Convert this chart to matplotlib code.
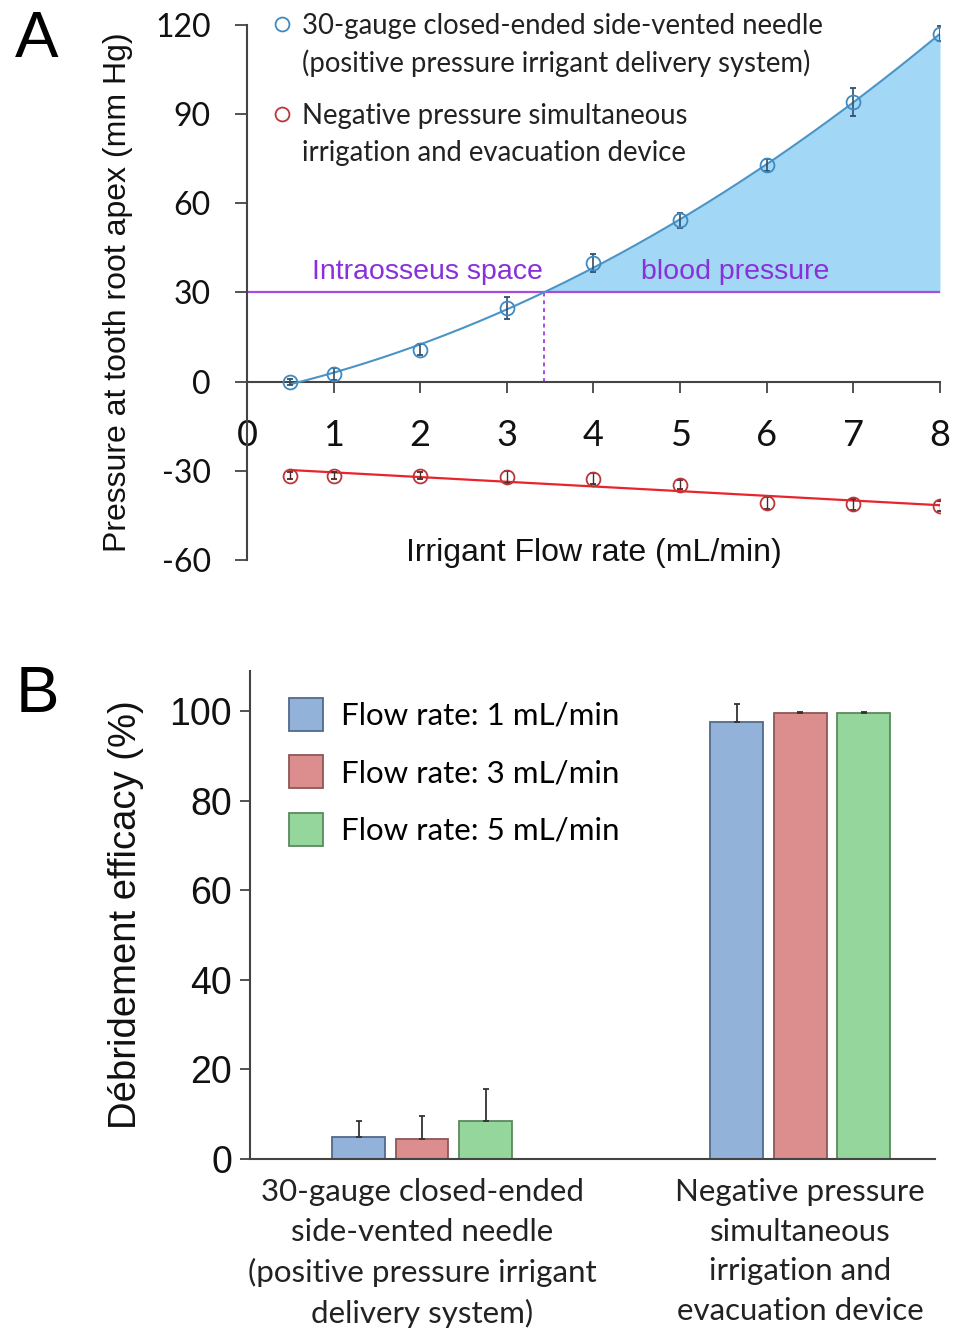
import matplotlib
matplotlib.use("Agg")
import matplotlib.pyplot as plt
import numpy as np
from matplotlib.patches import Patch

# ---- panel A data: pressure at root apex vs flow rate
flow = [0.5, 1, 2, 3, 4, 5, 6, 7, 8]
p_needle = [0.0, 2.7, 10.8, 24.6, 39.8, 54.3, 72.8, 94.0, 117.0]
p_needle_err = [1.0, 2.0, 2.0, 3.7, 3.0, 2.5, 2.0, 4.7, 2.5]
p_negative = [-31.7, -31.6, -31.6, -32.0, -32.7, -34.7, -40.8, -41.3, -41.8]
p_negative_err = [1.2, 1.2, 1.2, 2.0, 1.8, 1.5, 2.0, 1.8, 1.8]
blood_pressure = 30

# ---- panel B data: debridement efficacy
groups = ["30-gauge closed-ended\nside-vented needle\n(positive pressure irrigant\ndelivery system)",
          "Negative pressure\nsimultaneous\nirrigation and\nevacuation device"]
rate_labels = ["Flow rate: 1 mL/min", "Flow rate: 3 mL/min", "Flow rate: 5 mL/min"]
eff_1 = [4.8, 97.6]
eff_3 = [4.4, 99.6]
eff_5 = [8.5, 99.6]
err_1 = [3.7, 4.0]
err_3 = [5.1, 0.3]
err_5 = [7.1, 0.2]

SANS = ["Liberation Sans", "DejaVu Sans"]
CAL = ["Lato", "DejaVu Sans"]
plt.rcParams["axes.unicode_minus"] = False

fig = plt.figure(figsize=(9.55, 13.32), dpi=100)

# ================= panel A =================
ax = fig.add_axes([0.2586, 0.5796, 0.7257, 0.4017])
x = np.array(flow)
yb = np.array(p_needle)
yr = np.array(p_negative)

cb = np.polyfit(x, yb, 2)
cr = np.polyfit(x, yr, 1)
xs = np.linspace(x.min(), x.max(), 300)
fit_b = np.polyval(cb, xs)
fit_r = np.polyval(cr, xs)

# where fitted curve crosses blood pressure level
roots = np.roots(cb - np.array([0, 0, blood_pressure]))
x_cross = [r.real for r in roots if abs(r.imag) < 1e-9 and x.min() <= r.real <= x.max()][0]

ax.fill_between(xs, blood_pressure, fit_b, where=xs >= x_cross, color="#a2d7f6",
                linewidth=0, interpolate=True, zorder=1)
ax.axhline(blood_pressure, xmin=0, xmax=1, color="#a64de0", lw=1.6, zorder=2)
ax.plot([x_cross, x_cross], [0, blood_pressure], color="#a64de0", lw=1.4,
        ls=(0, (2, 2)), zorder=2)

ax.plot(xs, fit_b, color="#4a94c6", lw=1.5, zorder=3)
ax.errorbar(x, yb, yerr=p_needle_err, fmt="o", mfc="none", mec="#3f8ac2", ms=10,
            mew=1.3, ecolor="#2f4f6a", elinewidth=1.2, capsize=2.5, zorder=4)
ax.plot(xs, fit_r, color="#e8242c", lw=1.6, zorder=3)
ax.errorbar(x, yr, yerr=p_negative_err, fmt="o", mfc="none", mec="#b8383a", ms=10,
            mew=1.3, ecolor="#4a2a2a", elinewidth=1.0, capsize=2, zorder=4)

ax.set_xlim(0, 8)
ax.set_ylim(-60, 120)
ax.spines["top"].set_visible(False)
ax.spines["right"].set_visible(False)
ax.spines["bottom"].set_position(("data", 0))
for s in ["left", "bottom"]:
    ax.spines[s].set_color("#444444")
    ax.spines[s].set_linewidth(1.5)
ax.set_xticks(range(0, 9))
ax.set_yticks(range(-60, 121, 30))
ax.tick_params(axis="y", direction="out", length=9, width=1.3, pad=17, colors="#444444",
               labelcolor="#111111")
ax.tick_params(axis="x", direction="out", length=8, width=1.3, pad=19, colors="#444444",
               labelcolor="#111111")
for lab in ax.get_yticklabels():
    lab.set_fontfamily(CAL)
    lab.set_fontsize(23)
for lab in ax.get_xticklabels():
    lab.set_fontfamily(CAL)
    lab.set_fontsize(26)

ax.set_ylabel("Pressure at tooth root apex (mm Hg)", fontsize=23, family=SANS,
              color="#111111", labelpad=16)
ax.text(4.0, -57.5, "Irrigant Flow rate (mL/min)", fontsize=23, family=SANS,
        ha="center", va="center", color="#111111")

ax.text(2.08, 37, "Intraosseus space", fontsize=20.5, family=SANS, color="#8a30d8",
        ha="center", va="center")
ax.text(5.63, 37, "blood pressure", fontsize=20.5, family=SANS, color="#8a30d8",
        ha="center", va="center")

# legend of panel A (px rows converted to axes fraction)
def ay(py):
    return (560 - py) / 535

ax.plot([0.0505], [ay(24)], "o", mfc="none", mec="#3f8ac2", ms=10, mew=1.3,
        transform=ax.transAxes, clip_on=False)
ax.plot([0.0505], [ay(114)], "o", mfc="none", mec="#b8383a", ms=10, mew=1.3,
        transform=ax.transAxes, clip_on=False)
leg_lines = [("30-gauge closed-ended side-vented needle", 24),
             ("(positive pressure irrigant delivery system)", 61),
             ("Negative pressure simultaneous", 114),
             ("irrigation and evacuation device", 151)]
for txt, py in leg_lines:
    ax.text(0.079, ay(py), txt, transform=ax.transAxes, fontsize=19.8, family=CAL,
            va="center_baseline", ha="left", color="#222222")

fig.text(37 / 955, 1 - 40 / 1332, "A", fontsize=47, family=SANS, ha="center", va="center")

# ================= panel B =================
bx = fig.add_axes([0.2618, 0.1299, 0.7173, 0.3664])
pos = np.arange(len(groups))
off = 0.168
w = 0.14
faces = ["#92b2d9", "#dc8e8e", "#94d69b"]
edges = ["#52698a", "#8f5656", "#5a8a5d"]
for i, (vals, errs) in enumerate([(eff_1, err_1), (eff_3, err_3), (eff_5, err_5)]):
    bx.bar(pos + (i - 1) * off, vals, width=w, color=faces[i], edgecolor=edges[i],
           linewidth=1.3, yerr=[np.zeros(len(errs)), errs], capsize=2.5,
           error_kw=dict(ecolor="#333333", elinewidth=1.3, capthick=1.3), zorder=2)

bx.set_xlim(-0.455, 1.357)
bx.set_ylim(0, 109)
bx.spines["top"].set_visible(False)
bx.spines["right"].set_visible(False)
for s in ["left", "bottom"]:
    bx.spines[s].set_color("#444444")
    bx.spines[s].set_linewidth(1.5)
bx.set_yticks(range(0, 101, 20))
bx.set_xticks(pos)
bx.set_xticklabels(groups, fontsize=22.5, family=CAL, linespacing=1.5, color="#222222")
bx.tick_params(axis="x", length=0, pad=14)
bx.tick_params(axis="y", direction="out", length=7, width=1.3, pad=6, colors="#444444",
               labelcolor="#111111", labelsize=27)
for lab in bx.get_yticklabels():
    lab.set_fontfamily(SANS)
bx.set_ylabel("Débridement efficacy (%)", fontsize=27.5, family=SANS, color="#111111",
              labelpad=18)

handles = [Patch(facecolor=faces[i], edgecolor=edges[i], linewidth=1.3) for i in range(3)]
bx.legend(handles, rate_labels, loc="upper left", bbox_to_anchor=(0.025, 0.99),
          frameon=False, prop=dict(family=CAL, size=22.5), handlelength=1.1,
          handleheight=1.25, handletextpad=0.55, labelspacing=0.78, borderpad=0.2)

fig.text(37 / 955, 1 - 695 / 1332, "B", fontsize=47, family=SANS, ha="center", va="center")

fig.savefig("out.png", dpi=100, facecolor="white")
